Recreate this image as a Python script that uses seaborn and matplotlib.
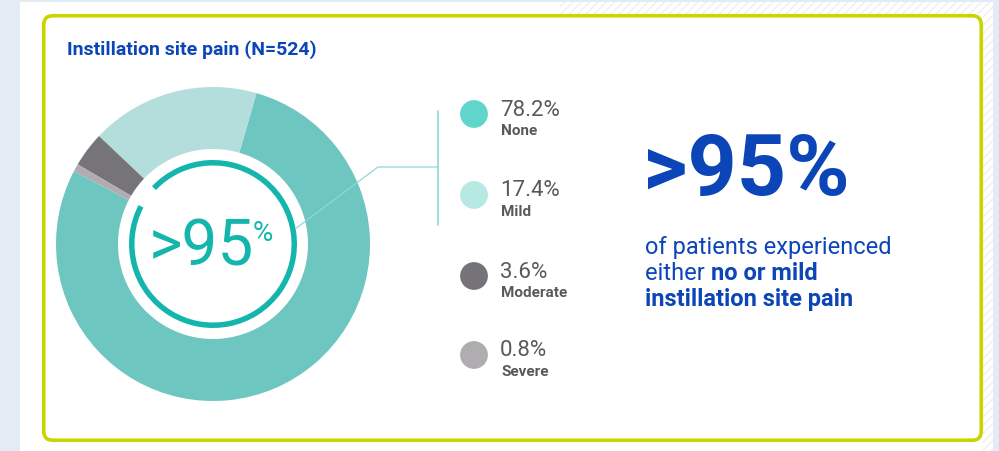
import matplotlib
matplotlib.use("Agg")
import matplotlib.pyplot as plt
from matplotlib.patches import Rectangle, FancyBboxPatch, Wedge
import pandas as pd
import seaborn as sns

# ---- data -------------------------------------------------------------
categories = ["None", "Mild", "Moderate", "Severe"]
shares = [78.2, 17.4, 3.6, 0.8]
share_labels = ["78.2%", "17.4%", "3.6%", "0.8%"]
ring_colors = ["#6ec6c1", "#b3dedb", "#767478", "#b0acaf"]
dot_colors = ["#5fd5cb", "#b6e8e4", "#757377", "#b0adb0"]
title = "Instillation site pain (N=524)"
headline = ">95%"
inner_label = ">95"
good_categories = ["None", "Mild"]

# ---- setup ------------------------------------------------------------
sns.set_theme(style="white")
plt.rcParams["font.family"] = ["Roboto", "DejaVu Sans"]

W, H = 999, 452
fig = plt.figure(figsize=(W / 100, H / 100), dpi=100)
fig.patch.set_facecolor("#e3ebf5")
ax = fig.add_axes([0, 0, 1, 1])


def Y(py):
    """Convert a top-down pixel row to the axes' upward y."""
    return H - py


BLUE = "#0c45b8"
GRAY = "#58595b"
TEAL = "#14b5ad"

# panel and frame
ax.add_patch(Rectangle((20, Y(452)), 973, 449, facecolor="white",
                       edgecolor="none", zorder=0))
ax.add_patch(Rectangle((560, Y(15)), 433, 12, facecolor="none",
                       edgecolor="#f0f0f0", hatch="////", lw=0, zorder=0.5))
ax.add_patch(Rectangle((983, Y(452)), 10, 437, facecolor="none",
                       edgecolor="#f0f0f0", hatch="////", lw=0, zorder=0.5))
ax.add_patch(FancyBboxPatch((43.75, Y(441.25)), 937.5, 424.5,
                            boxstyle="round,pad=0,rounding_size=9",
                            facecolor="white", edgecolor="#c8d600",
                            lw=2.6, zorder=1))

# ---- donut ------------------------------------------------------------
cx, cy = 213, Y(245)
r_out, r_in = 157, 95
start = 152.4
ax.pie(shares, colors=ring_colors, startangle=start, counterclock=True,
       radius=r_out, center=(cx, cy),
       wedgeprops=dict(width=r_out - r_in, edgecolor="none", zorder=2))

# inner arc spanning the no-or-mild share
good = sum(s for c, s in zip(categories, shares) if c in good_categories)
ax.add_patch(Wedge((cx, cy), 84, start, start + 360 * good / 100.0,
                   width=5.5, facecolor=TEAL, edgecolor="none", zorder=3))

ax.text(cx - 12, cy - 3, inner_label, ha="center", va="center",
        fontsize=46, color=TEAL, fontweight="normal", zorder=4)
ax.text(253, Y(234), "%", ha="left", va="center", fontsize=20,
        color=TEAL, fontweight="normal", zorder=4)

# connector
ax.plot([295, 378, 438], [Y(230), Y(168), Y(168)], color="#8fd8d4",
        lw=0.9, zorder=3, solid_capstyle="butt")
ax.plot([438, 438], [Y(112), Y(226)], color="#8fd8d4", lw=1.2, zorder=3)

# ---- legend -------------------------------------------------------------
row_y = [115, 196, 277, 356]
legend_df = pd.DataFrame({"x": [474] * 4, "y": [Y(v) for v in row_y],
                          "category": categories})
sns.scatterplot(data=legend_df, x="x", y="y", hue="category",
                palette=dict(zip(categories, dot_colors)), s=400,
                linewidth=0, legend=False, ax=ax, zorder=4)
for yy, pct, cat in zip(row_y, share_labels, categories):
    ax.text(500, Y(yy - 5), pct, ha="left", va="center", fontsize=16,
            color=GRAY, fontweight="normal", zorder=4)
    ax.text(501, Y(yy + 16), cat, ha="left", va="center", fontsize=11,
            color=GRAY, fontweight="bold", zorder=4)

# ---- headline text -----------------------------------------------------
ax.text(67, Y(50), title, ha="left", va="center", fontsize=14,
        color=BLUE, fontweight="bold", zorder=4)
ax.text(643, Y(172), headline, ha="left", va="center", fontsize=62,
        color=BLUE, fontweight="bold", zorder=4)

ax.text(645, Y(259), "of patients experienced", ha="left", va="bottom",
        fontsize=17, color=BLUE, zorder=4)
t2 = ax.text(645, Y(285), "either ", ha="left", va="bottom", fontsize=17,
             color=BLUE, zorder=4)
ax.annotate("no or mild", xy=(1, 0), xycoords=t2, ha="left", va="bottom",
            fontsize=17, color=BLUE, fontweight="bold", zorder=4)
ax.text(645, Y(311), "instillation site pain", ha="left", va="bottom",
        fontsize=17, color=BLUE, fontweight="bold", zorder=4)

ax.set_xlim(0, W)
ax.set_ylim(0, H)
ax.set_aspect("equal")
ax.axis("off")
fig.savefig("out.png", dpi=100, facecolor=fig.get_facecolor())
